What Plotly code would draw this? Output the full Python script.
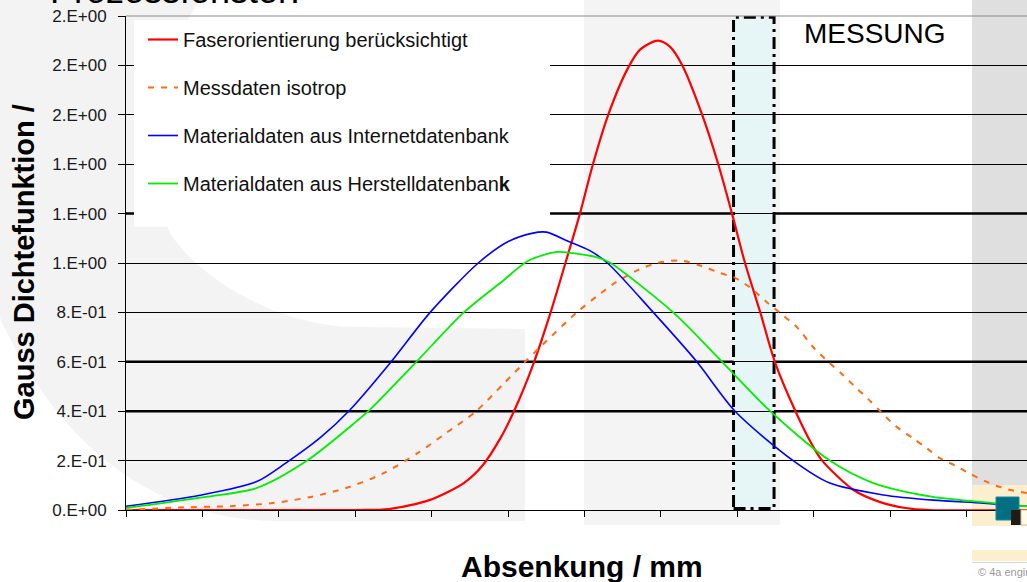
import plotly.graph_objects as go

# ---------------- data (x in tick units, y = density) ----------------
y_tickvals = [0.0, 0.2, 0.4, 0.6, 0.8, 1.0, 1.2, 1.4, 1.6, 1.8, 2.0]
y_ticktext = ["0.E+00", "2.E-01", "4.E-01", "6.E-01", "8.E-01", "1.E+00",
              "1.E+00", "1.E+00", "2.E+00", "2.E+00", "2.E+00"]

red_x = [0, 3.0, 3.44, 3.97, 4.42, 4.66, 4.90, 5.09, 5.33, 5.55, 5.75, 5.94, 6.11, 6.31,
         6.57, 6.73, 6.96, 7.12, 7.28, 7.54, 7.75, 7.93, 8.10, 8.30, 8.49, 8.76, 8.98,
         9.11, 9.52, 9.87, 10.20, 10.52, 11.79]
red_y = [0, 0.0, 0.004, 0.040, 0.109, 0.178, 0.291, 0.409, 0.591, 0.794, 1.00, 1.20, 1.40,
         1.60, 1.79, 1.865, 1.90, 1.875, 1.80, 1.60, 1.40, 1.20, 1.00, 0.80, 0.60, 0.40,
         0.263, 0.20, 0.081, 0.032, 0.008, 0.0, 0.0]

orange_x = [0, 0.69, 1.39, 1.92, 2.42, 2.88, 3.35, 3.82, 4.19, 4.57, 4.95, 5.22, 5.46,
            5.90, 6.16, 6.40, 6.69, 6.95, 7.25, 7.51, 7.77, 7.97, 8.17, 8.39, 8.59, 8.78,
            8.99, 9.19, 9.37, 9.57, 9.71, 9.87, 10.07, 10.30, 10.48, 10.65, 10.85, 11.05,
            11.24, 11.44, 11.57, 11.79]
orange_y = [0, 0.010, 0.016, 0.028, 0.053, 0.089, 0.146, 0.231, 0.312, 0.397, 0.514,
            0.599, 0.672, 0.80, 0.865, 0.92, 0.97, 1.00, 1.01, 0.99, 0.96, 0.94, 0.90,
            0.84, 0.79, 0.74, 0.66, 0.60, 0.55, 0.49, 0.45, 0.40, 0.34, 0.29, 0.25, 0.21,
            0.18, 0.146, 0.117, 0.093, 0.081, 0.069]

blue_x = [0, 0.97, 1.71, 2.09, 2.55, 2.93, 3.47, 3.98, 4.61, 4.99, 5.31, 5.50, 5.77,
          6.07, 6.30, 6.90, 7.47, 7.97, 8.73, 9.21, 9.91, 10.56, 11.22, 11.79]
blue_y = [0.015, 0.06, 0.115, 0.19, 0.295, 0.405, 0.60, 0.80, 1.00, 1.085, 1.12, 1.125,
          1.09, 1.05, 1.00, 0.80, 0.60, 0.40, 0.20, 0.109, 0.061, 0.040, 0.028, 0.015]

green_x = [0, 0.97, 1.71, 2.37, 3.02, 3.17, 3.80, 4.42, 4.90, 5.27, 5.64, 5.85, 6.20,
           6.34, 7.16, 7.80, 8.43, 9.21, 9.78, 10.56, 11.22, 11.79]
green_y = [0.008, 0.05, 0.089, 0.20, 0.36, 0.40, 0.60, 0.80, 0.92, 1.01, 1.045, 1.04,
           1.02, 1.00, 0.80, 0.60, 0.40, 0.20, 0.109, 0.053, 0.032, 0.015]

names = ["Faserorientierung berücksichtigt",
         "Messdaten isotrop",
         "Materialdaten aus Internetdatenbank",
         "Materialdaten aus Herstelldatenban<b>k</b>"]

MESS_X = (7.95, 8.48)          # measurement window (x units)
THICK_GRID = [0.4, 0.6, 1.2]

# ---------------- figure ----------------
W, H = 1027, 582
L, R, T, B = 126, 1027, 16, 510  # plot area in pixels


def px(x):
    return (x - L) / (R - L)


def py(y):
    return (B - y) / (B - T)


FONT = "Liberation Sans, Arial, sans-serif"

fig = go.Figure()
series = [(red_x, red_y, "#ff0000", 2.2, "solid"),
          (orange_x, orange_y, "#ff6a13", 2.0, "6px,7px"),
          (blue_x, blue_y, "#0000ff", 1.6, "solid"),
          (green_x, green_y, "#00ee00", 1.8, "solid")]
for i, (xs, ys, c, w, d) in enumerate(series):
    fig.add_trace(go.Scatter(x=xs, y=ys, mode="lines", name=names[i],
                             legendgroup=f"g{i}",
                             line=dict(color=c, width=w, dash=d, shape="spline", smoothing=0.8)))

shapes = []
# gray crescent watermark
crescent = (f"M {px(-10)},{py(-10)} L {px(200)},{py(-10)} L {px(200)},{py(0)} "
            f"Q {px(120)},{py(120)} {px(170)},{py(233)} "
            f"C {px(200)},{py(280)} {px(280)},{py(327)} {px(357)},{py(327)} "
            f"L {px(525)},{py(329)} L {px(525)},{py(521)} L {px(279)},{py(521)} "
            f"C {px(200)},{py(521)} {px(80)},{py(490)} {px(0)},{py(318)} "
            f"L {px(-10)},{py(318)} Z")
shapes.append(dict(type="path", path=crescent, xref="paper", yref="paper",
                   fillcolor="#f3f3f3", line=dict(width=0), layer="below"))
# central light band
shapes.append(dict(type="rect", xref="paper", yref="paper", x0=px(584), x1=px(780),
                   y0=py(525), y1=py(-10), fillcolor="#f4f4f4", line=dict(width=0), layer="below"))
# right darker band and beige blocks
shapes.append(dict(type="rect", xref="paper", yref="paper", x0=px(972), x1=px(1030),
                   y0=py(485), y1=py(-10), fillcolor="#e0dfe0", line=dict(width=0), layer="below"))
shapes.append(dict(type="rect", xref="paper", yref="paper", x0=px(972), x1=px(1030),
                   y0=py(526), y1=py(485), fillcolor="#fbefcf", line=dict(width=0), layer="below"))
shapes.append(dict(type="rect", xref="paper", yref="paper", x0=px(972), x1=px(1030),
                   y0=py(561), y1=py(550), fillcolor="#fbefcf", line=dict(width=0), layer="below"))
shapes.append(dict(type="line", xref="paper", yref="paper", x0=px(972), x1=px(1030),
                   y0=py(562.5), y1=py(562.5), line=dict(color="#d8d8d8", width=1), layer="below"))
# measurement window
shapes.append(dict(type="rect", xref="x", yref="y", x0=MESS_X[0], x1=MESS_X[1],
                   y0=0.006, y1=1.995, fillcolor="#e6f6f6", line=dict(width=0), layer="below"))
shapes.append(dict(type="rect", xref="x", yref="y", x0=MESS_X[0], x1=MESS_X[1],
                   y0=0.006, y1=1.995, fillcolor="rgba(0,0,0,0)",
                   line=dict(color="black", width=3, dash="12px,5px,3px,5px"), layer="between"))
# thicker grid lines
for g in THICK_GRID:
    shapes.append(dict(type="line", xref="paper", yref="y", x0=0, x1=1, y0=g, y1=g,
                       line=dict(color="black", width=2.5), layer="between"))
# legend background box
shapes.append(dict(type="rect", xref="paper", yref="paper", x0=px(134), x1=px(550),
                   y0=py(227), y1=py(20), fillcolor="white", line=dict(width=0), layer="above"))
# top frame line
shapes.append(dict(type="line", xref="paper", yref="paper", x0=0, x1=1, y0=1, y1=1,
                   line=dict(color="#8a8a8a", width=1), layer="above"))
# logo blocks at lower right
shapes.append(dict(type="rect", xref="paper", yref="paper", x0=px(996), x1=px(1019),
                   y0=py(520), y1=py(497), fillcolor="#006f82", line=dict(color="#0f8fa0", width=1),
                   layer="above"))
shapes.append(dict(type="rect", xref="paper", yref="paper", x0=px(1011), x1=px(1021),
                   y0=py(525), y1=py(510), fillcolor="#221a16", line=dict(width=0), layer="above"))
shapes.append(dict(type="rect", xref="paper", yref="paper", x0=px(1021), x1=px(1030),
                   y0=py(525), y1=py(510), fillcolor="#fffbe8", line=dict(color="#c8c0a0", width=1),
                   layer="above"))

annotations = [
    dict(text="MESSUNG", xref="paper", yref="paper", x=px(802), y=py(33),
         xanchor="left", yanchor="middle", showarrow=False,
         font=dict(family=FONT, size=28, color="black")),
    dict(text="<b>Gauss Dichtefunktion /</b>", xref="paper", yref="paper", x=px(24), y=py(262),
         xanchor="center", yanchor="middle", textangle=-90, showarrow=False,
         font=dict(family=FONT, size=29, color="black")),
    dict(text="<b>Absenkung / mm</b>", xref="paper", yref="paper", x=px(582), y=py(566),
         xanchor="center", yanchor="middle", showarrow=False,
         font=dict(family=FONT, size=30, color="black")),
    dict(text="Prozessfenster:", xref="paper", yref="paper", x=px(48), y=py(13),
         xanchor="left", yanchor="bottom", showarrow=False,
         font=dict(family=FONT, size=36, color="black")),
    dict(text="© 4a engineering", xref="paper", yref="paper", x=px(976), y=py(572),
         xanchor="left", yanchor="middle", showarrow=False,
         font=dict(family=FONT, size=11, color="#9a9a9a")),
]

fig.update_layout(
    width=W, height=H,
    margin=dict(l=L, r=W - R, t=T, b=H - B, autoexpand=False),
    paper_bgcolor="white", plot_bgcolor="rgba(0,0,0,0)",
    shapes=shapes, annotations=annotations,
    showlegend=True,
    legend=dict(x=px(143), y=py(20), xanchor="left", yanchor="top",
                bgcolor="rgba(0,0,0,0)", tracegroupgap=19,
                font=dict(family=FONT, size=20, color="#111111")),
    xaxis=dict(range=[0, 11.79], tick0=0, dtick=1, showticklabels=False,
               ticks="outside", ticklen=6, tickcolor="black", tickwidth=1,
               showline=True, linecolor="black", linewidth=1,
               showgrid=False, zeroline=False),
    yaxis=dict(range=[0, 2.0], tickvals=y_tickvals, ticktext=y_ticktext,
               ticks="outside", ticklen=7, tickcolor="black", tickwidth=1,
               ticklabelstandoff=8, ticklabeloverflow="allow",
               tickfont=dict(family=FONT, size=17, color="#1a1a1a"),
               showline=True, linecolor="black", linewidth=1,
               showgrid=True, gridcolor="black", gridwidth=1, zeroline=False),
)

# remove the default 8px page margin so the figure fills the window exactly
fig.write_html("out.html", config={"displayModeBar": False},
               post_script="document.body.style.margin='0';")
